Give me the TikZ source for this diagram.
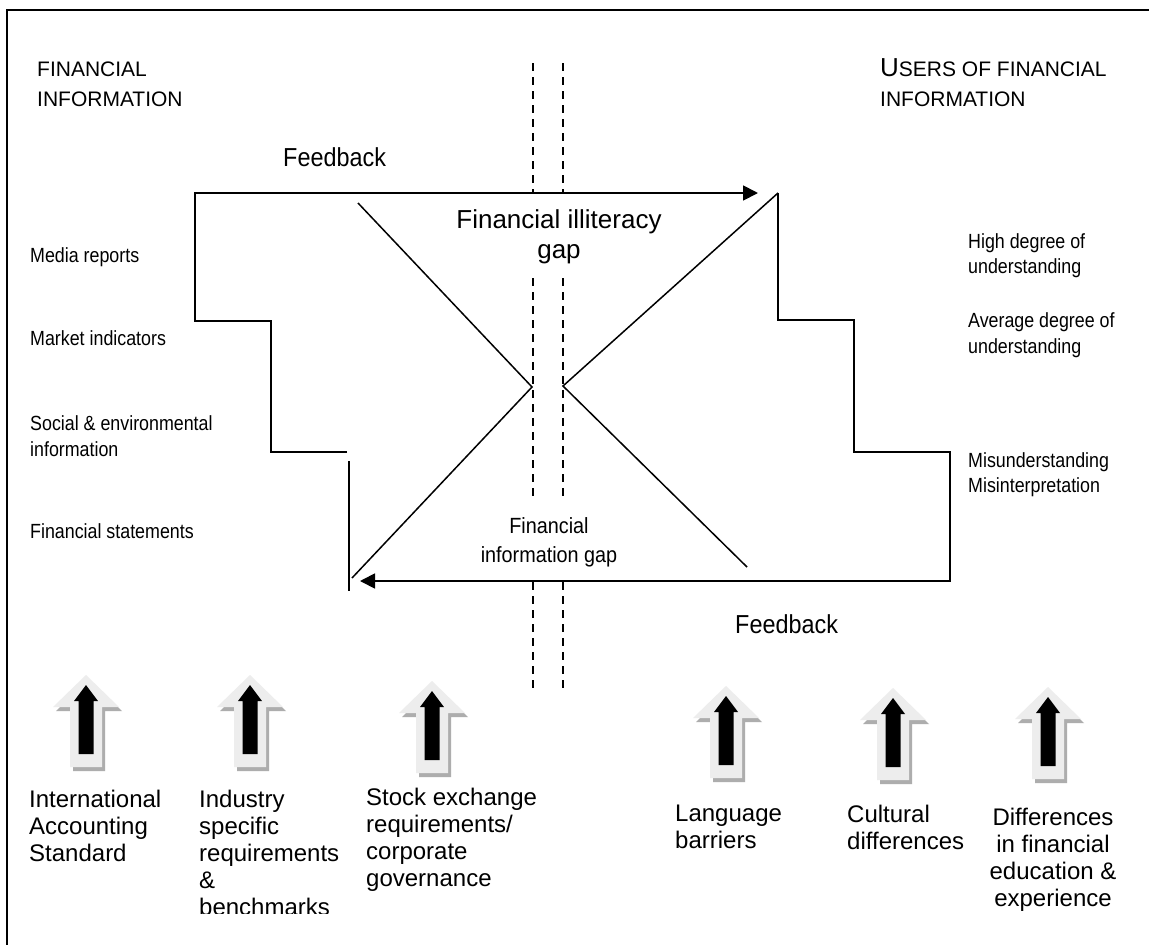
\documentclass[tikz,border=0pt]{standalone}
\usepackage{fontspec}
\setmainfont{Liberation Sans}
\newfontfamily\cond[FakeStretch=0.87]{Liberation Sans}
\newfontfamily\condb[FakeStretch=0.9]{Liberation Sans}
\usetikzlibrary{arrows.meta}
\newcommand\blkarrow[2]{%
  \begin{scope}[shift={(#1,#2)}]
    \fill[arrshadow,shift={(3,4)}] (0,0) -- (33,32) -- (16,32) -- (16,92) -- (-16,92) -- (-16,32) -- (-33,32) -- cycle;
    \fill[arrbody] (0,0) -- (33,32) -- (16,32) -- (16,92) -- (-16,92) -- (-16,32) -- (-33,32) -- cycle;
    \fill[black] (0,10) -- (12,26) -- (7.5,26) -- (7.5,79) -- (-7.5,79) -- (-7.5,26) -- (-12,26) -- cycle;
  \end{scope}}
\tikzset{
  frame/.style={line width=2pt},
  ln/.style={line width=1.8pt, line join=miter},
  diag/.style={line width=1.5pt},
  fb/.style={ln, -{Triangle[length=15pt,width=15pt]}},
  dsh/.style={line width=1.3pt, dash pattern=on 8pt off 6pt},
  arrshadow/.style={fill=black!32},
  arrbody/.style={fill=black!7},
  lab/.style={inner sep=0pt, anchor=base west, font=\cond\fontsize{20.5}{24}\selectfont},
  hdr/.style={inner sep=0pt, anchor=base west, font=\fontsize{21}{30}\selectfont},
  fbk/.style={inner sep=0pt, anchor=base west, font=\condb\fontsize{26}{30}\selectfont},
  gapA/.style={inner sep=0pt, anchor=base, font=\fontsize{26}{30}\selectfont},
  gapB/.style={inner sep=0pt, anchor=base, font=\condb\fontsize{22}{28}\selectfont},
  big/.style={inner sep=0pt, anchor=base west, font=\fontsize{24}{27}\selectfont},
  bigc/.style={inner sep=0pt, anchor=base, font=\fontsize{24}{27}\selectfont},
}
\begin{document}
\begin{tikzpicture}[x=1pt,y=-1pt]
\useasboundingbox (0,0) rectangle (1149,945);
\fill[white] (0,0) rectangle (1149,945);
% frame
\draw[frame] (7,945) -- (7,10) -- (1149,10);

% headers
\node[hdr] (h1) at (37,76) {FINANCIAL};
\node[hdr] (h2) at (37,106) {INFORMATION};
\node[hdr] (h3) at (880,76) {{\fontsize{26}{30}\selectfont U}SERS OF FINANCIAL};
\node[hdr] (h4) at (880,106) {INFORMATION};

% coordinates of the stair / loop
\coordinate (L1) at (347,452);
\coordinate (L2) at (271,452);
\coordinate (L3) at (271,321);
\coordinate (L4) at (195,321);
\coordinate (L5) at (195,193);
\coordinate (T)  at (758,193);
\coordinate (R0) at (778,193);
\coordinate (R1) at (778,320);
\coordinate (R2) at (854,320);
\coordinate (R3) at (854,452);
\coordinate (R4) at (950,452);
\coordinate (R5) at (950,581);
\coordinate (B)  at (360,581);
\coordinate (V1) at (349,461);
\coordinate (V2) at (349,591);
\coordinate (CL) at (532,387);
\coordinate (CR) at (563,386);
\coordinate (D1) at (358,203);
\coordinate (D2) at (352,578);
\coordinate (D3) at (747,567);

% feedback loop
\draw[fb] (L1) -- (L2) -- (L3) -- (L4) -- (L5) -- (T);
\draw[fb] (R0) -- (R1) -- (R2) -- (R3) -- (R4) -- (R5) -- (B);
\draw[ln] (V1) -- (V2);

% diagonals
\draw[diag] (D1) -- (CL) -- (D2);
\draw[diag] (R0) -- (CR) -- (D3);

% dashed divider
\foreach \xx in {533,563}{
  \draw[dsh] (\xx,63) -- (\xx,193);
  \draw[dsh] (\xx,278) -- (\xx,497);
  \draw[dsh] (\xx,582) -- (\xx,690);
}

% gap labels
\node[gapA] (g1) at (559,228) {Financial illiteracy};
\node[gapA] (g2) at (559,258) {gap};
\node[gapB] (g3) at (549,533) {Financial};
\node[gapB] (g4) at (549,562) {information gap};

% feedback labels
\node[fbk] (f1) at (283,166) {Feedback};
\node[fbk] (f2) at (735,633) {Feedback};

% left labels
\node[lab] (m1) at (30,262) {Media reports};
\node[lab] (m2) at (30,345) {Market indicators};
\node[lab] (m3) at (30,430) {Social \& environmental};
\node[lab] (m4) at (30,456) {information};
\node[lab] (m5) at (30,538) {Financial statements};

% right labels
\node[lab] (u1) at (968,248) {High degree of};
\node[lab] (u2) at (968,273) {understanding};
\node[lab] (u3) at (968,327) {Average degree of};
\node[lab] (u4) at (968,353) {understanding};
\node[lab] (u5) at (968,467) {Misunderstanding};
\node[lab] (u6) at (968,492) {Misinterpretation};

% block arrows
\blkarrow{86}{675}
\blkarrow{250}{675}
\blkarrow{432}{681}
\blkarrow{726}{686}
\blkarrow{893}{688}
\blkarrow{1048}{687}

% bottom labels
\node[big] (a1) at (29,807) {International};
\node[big] (a2) at (29,834) {Accounting};
\node[big] (a3) at (29,861) {Standard};

\node[big] (b1) at (199,807) {Industry};
\node[big] (b2) at (199,834) {specific};
\node[big] (b3) at (199,861) {requirements};
\node[big] (b4) at (199,888) {\&};
\begin{scope}
  \clip (150,880) rectangle (360,913);
  \node[big] (b5) at (199,915) {benchmarks};
\end{scope}

\node[big] (c1) at (366,805) {Stock exchange};
\node[big] (c2) at (366,832) {requirements/};
\node[big] (c3) at (366,859) {corporate};
\node[big] (c4) at (366,886) {governance};

\node[big] (d1) at (675,821) {Language};
\node[big] (d2) at (675,848) {barriers};

\node[big] (e1) at (847,822) {Cultural};
\node[big] (e2) at (847,849) {differences};

\node[bigc] (k1) at (1053,825) {Differences};
\node[bigc] (k2) at (1053,852) {in financial};
\node[bigc] (k3) at (1053,879) {education \&};
\node[bigc] (k4) at (1053,906) {experience};
\end{tikzpicture}
\end{document}
